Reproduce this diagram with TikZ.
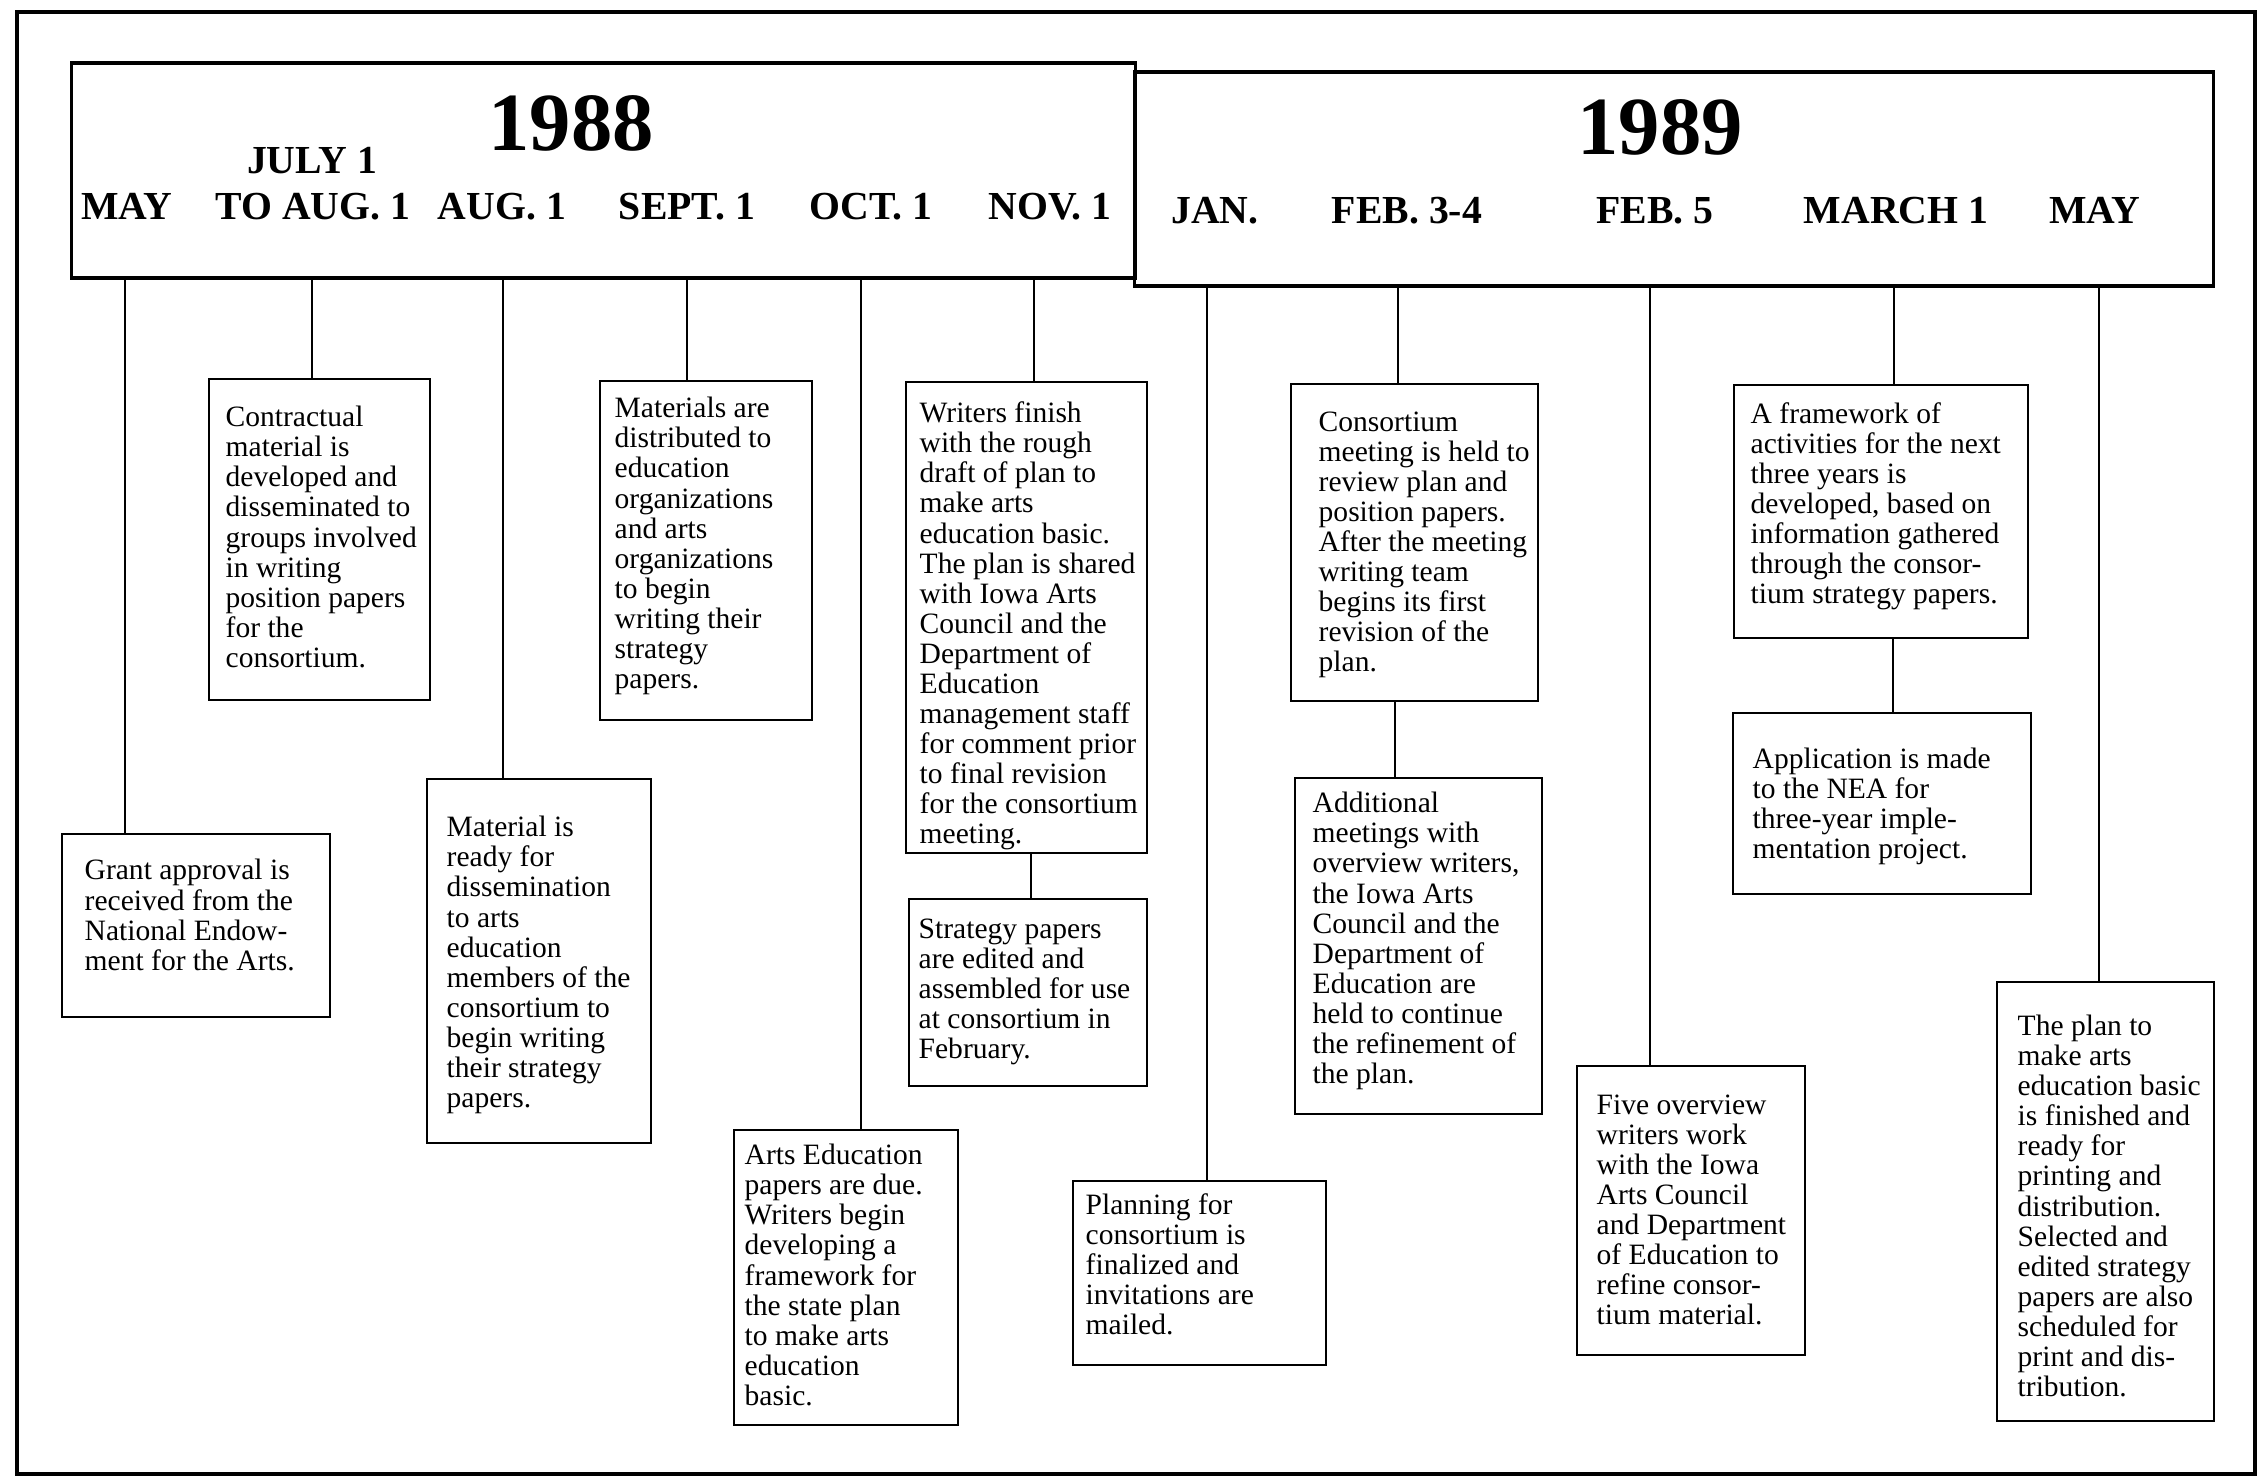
\documentclass[tikz,border=0pt]{standalone}
\usepackage{fontspec}
\setmainfont{Liberation Serif}
\begin{document}
\begin{tikzpicture}[x=0.01cm,y=-0.01cm,
  evbox/.style={draw, line width=0.75pt, rectangle, inner sep=0pt},
  evtxt/.style={anchor=west, align=left, inner sep=0pt, font=\fontsize{8.4}{8.55}\selectfont},
  yearbox/.style={draw, line width=0.9pt, rectangle, inner sep=0pt},
  yearlbl/.style={anchor=base, inner sep=0pt, font=\fontsize{23.5}{24}\selectfont\bfseries},
  monlbl/.style={anchor=base, inner sep=0pt, font=\fontsize{11.3}{12}\selectfont\bfseries},
  link/.style={line width=0.6pt}
]
\useasboundingbox (0,0) rectangle (2262,1479);
% outer frame
\draw[line width=1pt] (17,12) rectangle (2255,1474);

% header boxes
\node[yearbox, minimum width=10.63cm, minimum height=2.15cm] (h88) at (603.5,170.5) {};
\node[yearbox, minimum width=10.78cm, minimum height=2.14cm] (h89) at (1674,179) {};

\node[yearlbl] (y88) at (571,151) {1988};
\node[yearlbl] (y89) at (1660,155) {1989};

\node[monlbl] (m1) at (127,220) {MAY};
\node[monlbl] (m2a) at (312,174) {JULY 1};
\node[monlbl] (m2) at (313,220) {TO AUG. 1};
\node[monlbl] (m3) at (502,220) {AUG. 1};
\node[monlbl] (m4) at (687,220) {SEPT. 1};
\node[monlbl] (m5) at (871,220) {OCT. 1};
\node[monlbl] (m6) at (1050,220) {NOV. 1};
\node[monlbl] (m7) at (1215,224) {JAN.};
\node[monlbl] (m8) at (1407,224) {FEB. 3-4};
\node[monlbl] (m9) at (1655,224) {FEB. 5};
\node[monlbl] (m10) at (1896,224) {MARCH 1};
\node[monlbl] (m11) at (2095,224) {MAY};

% event boxes
\node[evbox, minimum width=2.68cm, minimum height=1.83cm] (b1) at (196,925.5) {};
\node[evbox, minimum width=2.21cm, minimum height=3.21cm] (b2) at (319.5,539.5) {};
\node[evbox, minimum width=2.24cm, minimum height=3.64cm] (b3) at (539,961) {};
\node[evbox, minimum width=2.12cm, minimum height=3.39cm] (b4) at (706,550.5) {};
\node[evbox, minimum width=2.24cm, minimum height=2.95cm] (b5) at (846,1277.5) {};
\node[evbox, minimum width=2.41cm, minimum height=4.71cm] (b6) at (1026.5,617.5) {};
\node[evbox, minimum width=2.38cm, minimum height=1.87cm] (b7) at (1028,992.5) {};
\node[evbox, minimum width=2.53cm, minimum height=1.84cm] (b8) at (1199.5,1273) {};
\node[evbox, minimum width=2.47cm, minimum height=3.17cm] (b9) at (1414.5,542.5) {};
\node[evbox, minimum width=2.47cm, minimum height=3.36cm] (b10) at (1418.5,946) {};
\node[evbox, minimum width=2.28cm, minimum height=2.89cm] (b11) at (1691,1210.5) {};
\node[evbox, minimum width=2.94cm, minimum height=2.53cm] (b12) at (1881,511.5) {};
\node[evbox, minimum width=2.98cm, minimum height=1.81cm] (b13) at (1882,803.5) {};
\node[evbox, minimum width=2.17cm, minimum height=4.39cm] (b14) at (2105.5,1201.5) {};

% texts
\node[evtxt] (t1) at (84,915) {Grant approval is\\received from the\\National Endow-\\ment for the Arts.};
\node[evtxt] (t2) at (225,537) {Contractual\\material is\\developed and\\disseminated to\\groups involved\\in writing\\position papers\\for the\\consortium.};
\node[evtxt] (t3) at (446,965) {Material is\\ready for\\dissemination\\to arts\\education\\members of the\\consortium to\\begin writing\\their strategy\\papers.};
\node[evtxt] (t4) at (614,546) {Materials are\\distributed to\\education\\organizations\\and arts\\organizations\\to begin\\writing their\\strategy\\papers.};
\node[evtxt] (t5) at (744,1275) {Arts Education\\papers are due.\\Writers begin\\developing a\\framework for\\the state plan\\to make arts\\education\\basic.};
\node[evtxt] (t6) at (919,626) {Writers finish\\with the rough\\draft of plan to\\make arts\\education basic.\\The plan is shared\\with Iowa Arts\\Council and the\\Department of\\Education\\management staff\\for comment prior\\to final revision\\for the consortium\\meeting.};
\node[evtxt] (t7) at (918,992) {Strategy papers\\are edited and\\assembled for use\\at consortium in\\February.};
\node[evtxt] (t8) at (1085,1264) {Planning for\\consortium is\\finalized and\\invitations are\\mailed.};
\node[evtxt] (t9) at (1318,545) {Consortium\\meeting is held to\\review plan and\\position papers.\\After the meeting\\writing team\\begins its first\\revision of the\\plan.};
\node[evtxt] (t10) at (1312,941) {Additional\\meetings with\\overview writers,\\the Iowa Arts\\Council and the\\Department of\\Education are\\held to continue\\the refinement of\\the plan.};
\node[evtxt] (t11) at (1596,1210) {Five overview\\writers work\\with the Iowa\\Arts Council\\and Department\\of Education to\\refine consor-\\tium material.};
\node[evtxt] (t12) at (1750,506) {A framework of\\activities for the next\\three years is\\developed, based on\\information gathered\\through the consor-\\tium strategy papers.};
\node[evtxt] (t13) at (1752,806) {Application is made\\to the NEA for\\three-year imple-\\mentation project.};
\node[evtxt] (t14) at (2017,1206) {The plan to\\make arts\\education basic\\is finished and\\ready for\\printing and\\distribution.\\Selected and\\edited strategy\\papers are also\\scheduled for\\print and dis-\\tribution.};

% connector x positions
\coordinate (x1) at (125,0);
\coordinate (x2) at (312,0);
\coordinate (x3) at (503,0);
\coordinate (x4) at (687,0);
\coordinate (x5) at (861,0);
\coordinate (x6) at (1034,0);
\coordinate (x6b) at (1031,0);
\coordinate (x7) at (1207,0);
\coordinate (x8) at (1398,0);
\coordinate (x8b) at (1395,0);
\coordinate (x9) at (1650,0);
\coordinate (x10) at (1894,0);
\coordinate (x10b) at (1893,0);
\coordinate (x11) at (2099,0);

\draw[link] (x1 |- h88.south) -- (x1 |- b1.north);
\draw[link] (x2 |- h88.south) -- (x2 |- b2.north);
\draw[link] (x3 |- h88.south) -- (x3 |- b3.north);
\draw[link] (x4 |- h88.south) -- (x4 |- b4.north);
\draw[link] (x5 |- h88.south) -- (x5 |- b5.north);
\draw[link] (x6 |- h88.south) -- (x6 |- b6.north);
\draw[link] (x6b |- b6.south) -- (x6b |- b7.north);
\draw[link] (x7 |- h89.south) -- (x7 |- b8.north);
\draw[link] (x8 |- h89.south) -- (x8 |- b9.north);
\draw[link] (x8b |- b9.south) -- (x8b |- b10.north);
\draw[link] (x9 |- h89.south) -- (x9 |- b11.north);
\draw[link] (x10 |- h89.south) -- (x10 |- b12.north);
\draw[link] (x10b |- b12.south) -- (x10b |- b13.north);
\draw[link] (x11 |- h89.south) -- (x11 |- b14.north);
\end{tikzpicture}
\end{document}
